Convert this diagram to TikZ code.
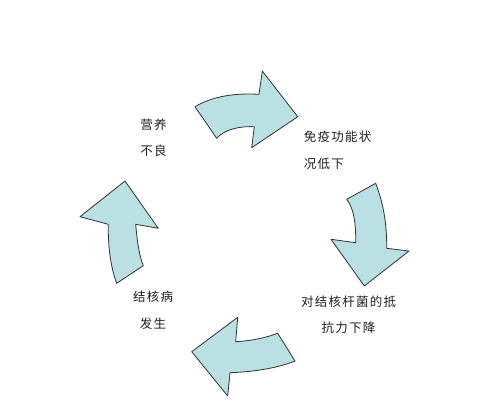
\documentclass[tikz,border=0pt]{standalone}
\usepackage{fontspec}
\newfontfamily\cjk[LetterSpace=10]{Noto Sans CJK SC}
\definecolor{arrowfill}{RGB}{187,224,227}
\definecolor{edge}{RGB}{45,50,50}
\definecolor{txt}{RGB}{30,30,30}
\begin{document}
\begin{tikzpicture}[x=1pt,y=-1pt,
  cyc/.style={fill=arrowfill,draw=edge,line width=0.8pt,line join=round},
  lbl/.style={font=\cjk\fontsize{12.5}{26.5}\selectfont,text=txt,inner sep=0pt}]
\useasboundingbox (0,0) rectangle (500,416);
% arrow 1 (top, pointing right)
\draw[cyc] (195,106.7) .. controls (213,96) and (235,93) .. (259,94.3) -- (262.3,71) -- (297.7,116.7) -- (251.7,147.7) -- (254.3,126.7) .. controls (238,126) and (224,130) .. (216.7,138.3) -- cycle;
% arrow 2 (right, pointing down)
\draw[cyc] (346.7,199.3) -- (375.7,183.3) .. controls (382,200) and (387,220) .. (386.7,248.3) -- (409,251) -- (364.3,286) -- (331,239.3) -- (355.7,242.7) .. controls (356,225) and (354,208) .. cycle;
% arrow 3 (bottom, pointing left)
\draw[cyc] (277.7,333.3) .. controls (262,339) and (248,341) .. (235.7,341.7) -- (237.7,317.3) -- (191.7,351.7) -- (227.7,396) -- (230,372.7) .. controls (250,372) and (275,369) .. (295,361) -- cycle;
% arrow 4 (left, pointing up)
\draw[cyc] (116.7,283.3) .. controls (110,265) and (108,245) .. (108.3,224.3) -- (80,216.7) -- (125,181) -- (158.3,228.3) -- (135.7,224.3) .. controls (137,240) and (139,255) .. (143.3,265.7) -- cycle;
% labels
\node[lbl,align=left] (t1) at (153.5,137.5) {营养\\不良};
\node[lbl,align=left] (t2) at (337.5,150) {免疫功能状\\况低下};
\node[lbl,align=center] (t3) at (348.5,315) {对结核杆菌的抵\\抗力下降};
\node[lbl,align=center] (t4) at (153,310) {结核病\\发生};
\end{tikzpicture}
\end{document}
